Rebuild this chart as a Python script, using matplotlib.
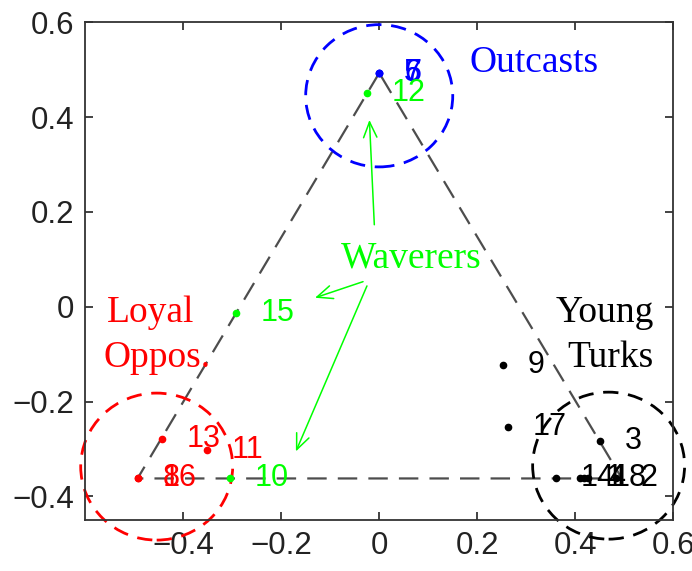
import matplotlib
matplotlib.use("Agg")
import matplotlib.pyplot as plt
from matplotlib.patches import Ellipse

plt.rcParams['lines.scale_dashes'] = False
plt.rcParams['axes.unicode_minus'] = True

# ---- data ----
node_ids = ["1", "2", "3", "4", "5", "6", "7", "8", "9",
            "10", "11", "12", "13", "14", "15", "16", "17", "18"]
node_x = [0.41, 0.483, 0.45, 0.417, 0.0, 0.0, 0.0, -0.493, 0.252,
          -0.305, -0.352, -0.025, -0.443, 0.36, -0.293, -0.493, 0.262, 0.426]
node_y = [-0.362, -0.362, -0.283, -0.362, 0.493, 0.493, 0.493, -0.362, -0.122,
          -0.362, -0.303, 0.451, -0.278, -0.362, -0.013, -0.362, -0.253, -0.362]
node_group = ["k", "k", "k", "k", "b", "b", "b", "r", "k",
              "g", "r", "g", "r", "k", "g", "r", "k", "k"]

group_colors = {"k": "#000000", "b": "#0000ff", "r": "#ff0000", "g": "#00ff00"}

triangle_x = [0.0, -0.493, 0.495, 0.0]
triangle_y = [0.493, -0.362, -0.362, 0.493]

circle_names = ["Outcasts", "Loyal Oppos.", "Young Turks"]
circle_cx = [0.0, -0.454, 0.468]
circle_cy = [0.445, -0.337, -0.335]
circle_r = [0.15, 0.155, 0.155]
circle_col = ["#0000ff", "#ff0000", "#000000"]

x_ticks = [-0.4, -0.2, 0, 0.2, 0.4, 0.6]
y_ticks = [-0.4, -0.2, 0, 0.2, 0.4, 0.6]
x_tick_labels = ["\u22120.4", "\u22120.2", "0", "0.2", "0.4", "0.6"]
y_tick_labels = ["\u22120.4", "\u22120.2", "0", "0.2", "0.4", "0.6"]

# arrows from "Waverers" to the waverer nodes (tail -> head)
arrow_tail = [(-0.01, 0.173), (-0.033, 0.053), (-0.025, 0.044)]
arrow_head = [(-0.02, 0.394), (-0.131, 0.019), (-0.17, -0.305)]

# ---- figure ----
fig = plt.figure(figsize=(6.92, 5.71), dpi=100)
ax = fig.add_axes([0.123, 0.089, 0.850, 0.872])
ax.set_xlim(-0.6, 0.6)
ax.set_ylim(-0.45, 0.6)

# circles
for cx, cy, r, c in zip(circle_cx, circle_cy, circle_r, circle_col):
    e = Ellipse((cx, cy), 2 * r, 2 * r * 1.0, fill=False, edgecolor=c,
                linewidth=2.0, linestyle=(0, (11, 7)), clip_on=False, zorder=2)
    ax.add_patch(e)

# dashed triangle
ax.plot(triangle_x, triangle_y, color="#4d4d4d", linewidth=1.6,
        dashes=(14, 8), zorder=1)

# nodes
for nid, x, y, g in zip(node_ids, node_x, node_y, node_group):
    c = group_colors[g]
    ax.plot(x, y, "o", color=c, markersize=4.5, zorder=4)
    ax.annotate(nid, (x, y), xytext=(25, 0), textcoords="offset pixels",
                color=c, fontsize=22, family="Liberation Sans",
                ha="left", va="center", zorder=5)

# group labels
serif = "Liberation Serif"
ax.text(0.185, 0.495, "Outcasts", color="#0000ff", fontsize=27, family=serif)
ax.text(-0.078, 0.082, "Waverers", color="#00ff00", fontsize=27, family=serif)
ax.text(-0.555, -0.032, "Loyal", color="#ff0000", fontsize=27, family=serif)
ax.text(-0.562, -0.126, "Oppos.", color="#ff0000", fontsize=27, family=serif)
ax.text(0.36, -0.032, "Young", color="#000000", fontsize=27, family=serif)
ax.text(0.383, -0.128, "Turks", color="#000000", fontsize=27, family=serif)

for t, h in zip(arrow_tail, arrow_head):
    ax.annotate("", xy=h, xytext=t,
                arrowprops=dict(arrowstyle="->,head_length=0.7,head_width=0.3",
                                color="#00ff00", lw=1.1, shrinkA=0, shrinkB=0,
                                mutation_scale=16), zorder=6)

ax.set_xticks(x_ticks)
ax.set_xticklabels(x_tick_labels)
ax.set_yticks(y_ticks)
ax.set_yticklabels(y_tick_labels)
ax.tick_params(direction="in", length=6, width=1.2, top=True, right=True,
               labelsize=22.5, colors="#222222", pad=8)
for lab in ax.get_xticklabels() + ax.get_yticklabels():
    lab.set_family("Liberation Sans")
for s in ax.spines.values():
    s.set_linewidth(1.3)
    s.set_color("#333333")

fig.savefig("out.png", dpi=100)
